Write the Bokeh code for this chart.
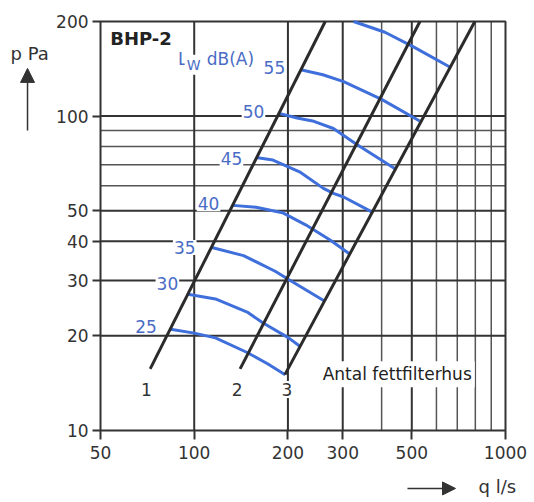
from bokeh.plotting import figure
from bokeh.models import FixedTicker, BasicTickFormatter, Label, Range1d, Arrow, NormalHead
from bokeh.embed import file_html
from bokeh.resources import INLINE

# ---- axes / grid values ----
x_ticks = [50, 100, 200, 300, 500, 1000]
y_ticks = [10, 20, 30, 40, 50, 100, 200]
x_grid_major = [100, 200, 300, 500]
x_grid_minor = [400, 600, 700, 800, 900]
y_grid_major = [20, 30, 40, 50, 100]
y_grid_minor = [60, 70, 80, 90]

# ---- system lines: number of grease filter housings (q l/s, p Pa) ----
filter_counts = ["1", "2", "3"]
filter_q = [[72.2, 263.6], [140.4, 531.0], [195.6, 797.0]]
filter_p = [[15.7, 200.0], [15.7, 200.0], [15.05, 200.0]]
filter_label_q = [70.2, 137.5, 198.6]
filter_label_p = [13.5, 13.5, 13.5]

# ---- sound power level curves Lw dB(A) ----
lw_levels = ["25", "30", "35", "40", "45", "50", "55", "60"]
lw_q = [
    [84, 100, 117, 148, 172, 196],
    [95.5, 117, 148, 166, 201, 219],
    [114, 144, 182, 201, 262],
    [133, 158, 192, 228, 274, 315],
    [158, 179, 218, 260, 280, 302, 372],
    [186, 214, 240, 280, 333, 443],
    [220, 259, 302, 400, 530],
    [325, 410, 508, 660],
]
lw_p = [
    [21.0, 20.4, 19.7, 17.7, 16.3, 15.05],
    [27.1, 26.2, 23.8, 22.0, 19.7, 18.5],
    [38.2, 36.0, 32.1, 30.2, 25.8],
    [52.0, 51.3, 49.3, 45.1, 40.3, 36.5],
    [73.8, 72.5, 66.5, 58.9, 56.8, 55.3, 49.6],
    [102.2, 98.6, 96.5, 91.3, 81.2, 67.9],
    [140.4, 135.4, 128.7, 113.0, 96.5],
    [200.0, 184.8, 165.7, 143.5],
]
lw_label_text = ["25", "30", "35", "40", "45", "50", "55"]
lw_label_q = [70.0, 82.0, 93.2, 111.2, 131.7, 155.0, 181.0]
lw_label_p = [21.4, 29.4, 38.2, 52.6, 73.1, 103.7, 142.5]

FONT = "DejaVu Sans"
BLUE = "#3f6fdb"
LBL_BLUE = "#4a6cc6"
DARK = "#2b2b2b"
GRID = "#333333"
GRID_MINOR = "#555555"

# The frame spans the whole canvas so that the axis titles and arrows outside the
# chart box can be drawn; the axes are pinned to the chart box edges.
p = figure(width=532, height=500, x_axis_type="log", y_axis_type="log",
           x_range=Range1d(23.86, 1221.1), y_range=Range1d(5.987, 233.2),
           output_backend="svg", toolbar_location=None,
           min_border_left=0, min_border_right=0, min_border_top=0, min_border_bottom=0,
           background_fill_color="white", border_fill_color="white",
           outline_line_color=None)

x0, x1 = x_ticks[0], x_ticks[-1]
y0, y1 = y_ticks[0], y_ticks[-1]

for ax, ticks, standoff, tout, loc in ((p.xaxis[0], x_ticks, 7, 9, y0),
                                       (p.yaxis[0], y_ticks, 4, 8, x0)):
    ax.fixed_location = loc
    ax.ticker = FixedTicker(ticks=ticks, minor_ticks=[])
    ax.formatter = BasicTickFormatter()
    ax.axis_line_color = None
    ax.major_tick_line_color = GRID
    ax.major_tick_line_width = 2
    ax.major_tick_out = tout
    ax.major_tick_in = 0
    ax.minor_tick_line_color = None
    ax.major_label_standoff = standoff
    ax.major_label_text_font = FONT
    ax.major_label_text_font_size = "17px"
    ax.major_label_text_color = "#333333"

p.xgrid.visible = False
p.ygrid.visible = False

# grid lines inside the chart box
p.segment(x0=x_grid_minor, y0=[y0] * len(x_grid_minor), x1=x_grid_minor, y1=[y1] * len(x_grid_minor),
          line_color=GRID_MINOR, line_width=1.5)
p.segment(x0=[x0] * len(y_grid_minor), y0=y_grid_minor, x1=[x1] * len(y_grid_minor), y1=y_grid_minor,
          line_color=GRID_MINOR, line_width=1.5)
p.segment(x0=x_grid_major, y0=[y0] * len(x_grid_major), x1=x_grid_major, y1=[y1] * len(x_grid_major),
          line_color=GRID, line_width=2)
p.segment(x0=[x0] * len(y_grid_major), y0=y_grid_major, x1=[x1] * len(y_grid_major), y1=y_grid_major,
          line_color=GRID, line_width=2)
p.quad(left=[x0], right=[x1], bottom=[y0], top=[y1], fill_color=None,
       line_color=GRID, line_width=2)

for q, pp in zip(lw_q, lw_p):
    p.line(q, pp, line_color=BLUE, line_width=3)
for q, pp in zip(filter_q, filter_p):
    p.line(q, pp, line_color=DARK, line_width=3)

for txt, q, pp in zip(lw_label_text, lw_label_q, lw_label_p):
    p.add_layout(Label(x=q, y=pp, text=txt, text_font=FONT, text_font_size="17px",
                       text_color=LBL_BLUE, text_align="center", text_baseline="middle",
                       background_fill_color="white", padding=1))

for txt, q, pp in zip(filter_counts, filter_label_q, filter_label_p):
    p.add_layout(Label(x=q, y=pp, text=txt, text_font=FONT, text_font_size="17px",
                       text_color="#333333", text_align="center", text_baseline="middle",
                       background_fill_color="white", padding=2))

p.add_layout(Label(x=253, y=15.1, text="Antal fettfilterhus", text_font=FONT,
                   text_font_size="17px", text_color="#222222", text_align="left",
                   text_baseline="middle", background_fill_color="white", padding=3))

p.add_layout(Label(x=53.7, y=176.9, text="BHP-2", text_font=FONT, text_font_size="18px",
                   text_font_style="bold", text_color="#222222", text_align="left",
                   text_baseline="middle"))

# L_W dB(A)
p.add_layout(Label(x=88.1, y=152, text="L", text_font=FONT, text_font_size="17px",
                   text_color=LBL_BLUE, text_align="left", text_baseline="middle",
                   background_fill_color="white", padding=1))
p.add_layout(Label(x=93.2, y=145.6, text="W", text_font=FONT, text_font_size="14px",
                   text_color=LBL_BLUE, text_align="left", text_baseline="middle",
                   background_fill_color="white", padding=2))
p.add_layout(Label(x=108.9, y=152, text="dB(A)", text_font=FONT, text_font_size="17px",
                   text_color=LBL_BLUE, text_align="left", text_baseline="middle",
                   background_fill_color="white", padding=1))

# axis titles with arrows, outside the chart box
p.add_layout(Label(x=25.7, y=158.2, text="p Pa", text_font=FONT, text_font_size="18px",
                   text_color="#333333", text_align="left", text_baseline="middle"))
p.add_layout(Arrow(end=NormalHead(size=14, fill_color="#333333", line_color="#333333"),
                   x_start=29.14, y_start=90.0, x_end=29.14, y_end=141.8,
                   line_color="#333333", line_width=1.5))
p.add_layout(Label(x=818.9, y=6.64, text="q  l/s", text_font=FONT, text_font_size="18px",
                   text_color="#333333", text_align="left", text_baseline="middle"))
p.add_layout(Arrow(end=NormalHead(size=13, fill_color="#333333", line_color="#333333"),
                   x_start=484.3, y_start=6.54, x_end=690.9, y_end=6.54,
                   line_color="#333333", line_width=1.5))

open("out.html", "w").write(file_html(p, INLINE))
